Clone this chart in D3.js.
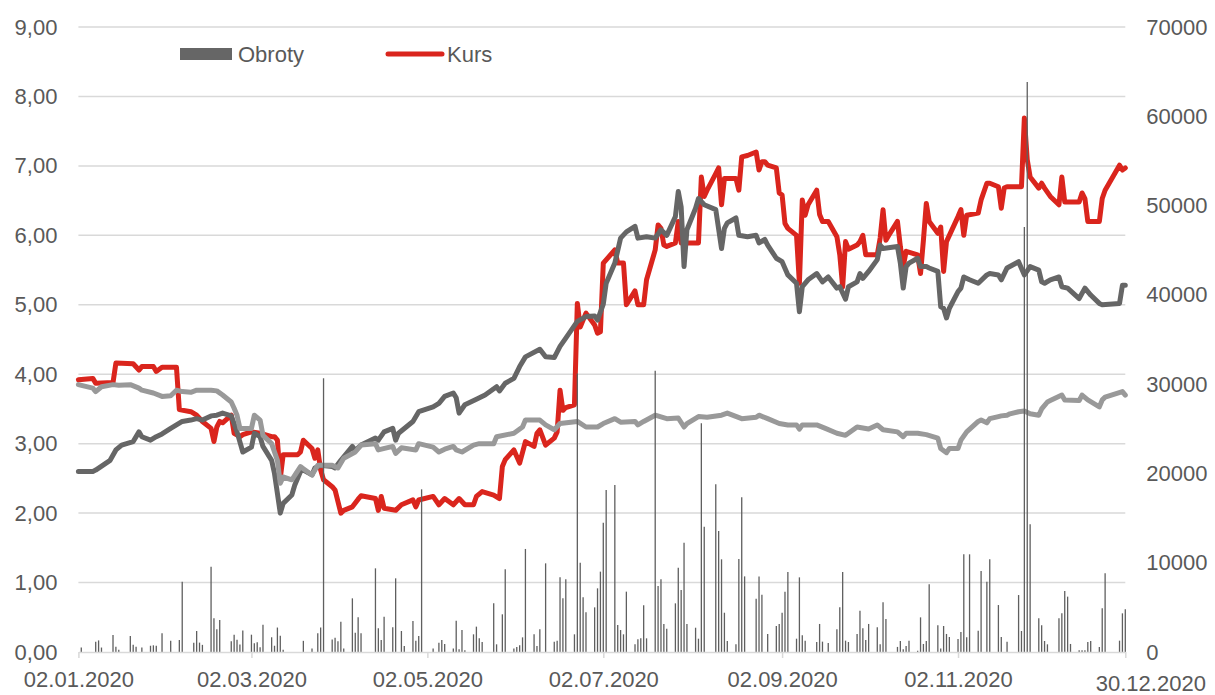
<!DOCTYPE html>
<html>
<head>
<meta charset="utf-8">
<script src="https://cdnjs.cloudflare.com/ajax/libs/d3/7.8.5/d3.min.js"></script>
<style>
	body { margin: 0; background: #fff; }
	svg { display: block; font-family: "Liberation Sans", Arial, sans-serif; }
</style>
</head>
<body>
<svg width="1215" height="695"></svg>
<script>
// tick labels
var leftTicks = [0, 1, 2, 3, 4, 5, 6, 7, 8, 9];
var rightTicks = [0, 10000, 20000, 30000, 40000, 50000, 60000, 70000];
var dateTicks = ["01-02", "03-02", "05-02", "07-02", "09-02", "11-02", "12-30"];

// Kurs (left axis)
var kurs = [
	["01-02",3.92],["01-07",3.94],["01-08",3.87],["01-14",3.88],["01-15",4.16],["01-21",4.15],["01-23",4.06],["01-24",4.11],
	["01-28",4.11],["01-29",4.04],["01-31",4.10],["02-05",4.10],["02-06",3.49],["02-10",3.46],["02-12",3.41],["02-14",3.32],
	["02-17",3.22],["02-18",3.03],["02-19",3.24],["02-20",3.32],["02-21",3.30],["02-24",3.41],["02-25",3.15],["02-27",3.10],
	["02-28",3.13],["03-02",3.17],["03-05",3.15],["03-09",3.10],["03-10",3.10],["03-11",3.05],["03-12",2.50],["03-13",2.84],
	["03-18",2.84],["03-19",2.88],["03-20",3.05],["03-23",2.93],["03-24",2.79],["03-25",2.91],["03-26",2.62],["03-27",2.48],
	["03-30",2.38],["03-31",2.33],["04-02",2.00],["04-03",2.04],["04-06",2.09],["04-08",2.20],["04-09",2.25],["04-14",2.21],
	["04-15",2.04],["04-16",2.24],["04-17",2.07],["04-21",2.04],["04-23",2.12],["04-27",2.19],["04-28",2.09],["04-29",2.19],
	["04-30",2.20],["05-04",2.24],["05-06",2.12],["05-08",2.21],["05-11",2.12],["05-13",2.21],["05-15",2.12],["05-18",2.12],
	["05-19",2.24],["05-21",2.31],["05-25",2.26],["05-27",2.21],["05-28",2.67],["05-29",2.77],["06-01",2.91],["06-03",2.72],
	["06-05",3.03],["06-08",2.96],["06-09",3.15],["06-10",3.20],["06-12",2.98],["06-15",3.08],["06-16",3.17],["06-17",3.77],
	["06-18",3.48],["06-19",3.52],["06-22",3.56],["06-23",5.02],["06-24",4.68],["06-26",4.88],["06-29",4.71],["06-30",4.59],
	["07-01",4.61],["07-02",5.60],["07-06",5.79],["07-07",5.60],["07-09",5.60],["07-10",5.00],["07-13",5.20],["07-14",5.00],
	["07-16",5.00],["07-17",5.36],["07-20",5.79],["07-21",6.15],["07-22",6.10],["07-23",5.86],["07-24",5.84],["07-27",5.89],
	["07-28",6.20],["07-29",5.89],["07-31",5.89],["08-04",5.89],["08-05",6.84],["08-06",6.56],["08-07",6.65],["08-10",6.89],
	["08-11",6.97],["08-12",6.44],["08-13",6.82],["08-17",6.82],["08-18",6.65],["08-19",7.13],["08-21",7.15],["08-24",7.20],
	["08-25",6.94],["08-26",7.06],["08-27",7.06],["08-28",7.01],["08-31",6.97],["09-01",6.61],["09-02",6.58],["09-03",6.17],
	["09-04",6.10],["09-07",6.00],["09-08",5.31],["09-09",6.51],["09-10",6.29],["09-11",6.44],["09-14",6.65],["09-15",6.30],
	["09-16",6.20],["09-18",6.20],["09-21",5.98],["09-22",5.72],["09-23",5.26],["09-24",5.91],["09-25",5.80],["09-28",5.86],
	["09-29",5.91],["09-30",6.00],["10-01",5.72],["10-05",5.72],["10-06",5.96],["10-07",6.37],["10-08",5.93],["10-09",6.00],
	["10-12",6.20],["10-13",5.84],["10-14",5.55],["10-15",5.77],["10-19",5.72],["10-20",5.45],["10-21",5.93],["10-22",6.46],
	["10-23",6.20],["10-26",6.03],["10-27",6.12],["10-28",5.48],["10-29",5.91],["10-30",6.00],["11-02",6.27],["11-03",6.37],
	["11-04",6.00],["11-05",6.29],["11-09",6.32],["11-10",6.51],["11-12",6.75],["11-13",6.75],["11-16",6.70],["11-17",6.39],
	["11-18",6.68],["11-19",6.70],["11-23",6.70],["11-24",6.70],["11-25",7.69],["11-26",7.09],["11-27",6.84],["11-30",6.68],
	["12-01",6.75],["12-02",6.68],["12-04",6.56],["12-07",6.44],["12-08",6.84],["12-09",6.48],["12-14",6.48],["12-15",6.61],
	["12-16",6.53],["12-17",6.20],["12-21",6.20],["12-22",6.53],["12-23",6.65],["12-28",7.01],["12-29",6.94],["12-30",6.97]
];

// dark grey index line (left axis scale)
var indexDark = [
	["01-02",2.60],["01-07",2.60],["01-08",2.62],["01-13",2.76],["01-15",2.91],["01-17",2.98],["01-21",3.03],["01-23",3.17],
	["01-24",3.10],["01-27",3.05],["01-29",3.10],["01-31",3.14],["02-03",3.22],["02-05",3.27],["02-07",3.32],["02-10",3.34],
	["02-12",3.36],["02-14",3.34],["02-17",3.40],["02-19",3.41],["02-21",3.44],["02-24",3.40],["02-25",3.29],["02-26",3.17],
	["02-28",2.88],["03-02",2.95],["03-03",3.15],["03-05",3.10],["03-06",2.96],["03-09",2.76],["03-10",2.57],["03-12",2.00],
	["03-13",2.14],["03-16",2.26],["03-17",2.40],["03-19",2.60],["03-20",2.62],["03-23",2.55],["03-24",2.65],["03-26",2.69],
	["03-30",2.67],["03-31",2.65],["04-02",2.76],["04-06",2.96],["04-07",2.90],["04-09",2.98],["04-14",3.08],["04-15",3.05],
	["04-17",3.17],["04-20",3.22],["04-21",3.05],["04-22",3.15],["04-27",3.32],["04-29",3.46],["05-04",3.53],["05-06",3.58],
	["05-08",3.68],["05-11",3.73],["05-12",3.66],["05-13",3.44],["05-15",3.56],["05-19",3.64],["05-22",3.70],["05-26",3.82],
	["05-27",3.76],["05-29",3.87],["06-01",3.94],["06-03",4.11],["06-05",4.25],["06-10",4.36],["06-12",4.25],["06-15",4.24],
	["06-17",4.40],["06-19",4.52],["06-23",4.76],["06-26",4.83],["06-29",4.84],["06-30",4.78],["07-02",5.01],["07-03",5.31],
	["07-06",5.60],["07-08",5.96],["07-10",6.05],["07-13",6.13],["07-14",5.96],["07-17",5.98],["07-20",5.96],["07-22",6.08],
	["07-24",6.00],["07-27",6.27],["07-28",6.63],["07-29",6.41],["07-30",5.55],["07-31",6.08],["08-03",6.39],["08-04",6.53],
	["08-06",6.44],["08-10",6.37],["08-12",5.81],["08-13",6.10],["08-14",6.18],["08-17",6.25],["08-18",6.00],["08-21",5.98],
	["08-24",6.00],["08-25",5.89],["08-27",5.94],["08-28",5.86],["08-31",5.67],["09-02",5.62],["09-04",5.43],["09-07",5.31],
	["09-08",4.90],["09-09",5.26],["09-11",5.36],["09-14",5.45],["09-16",5.33],["09-18",5.40],["09-21",5.24],["09-22",5.26],
	["09-24",5.08],["09-25",5.26],["09-28",5.33],["09-29",5.45],["09-30",5.38],["10-02",5.48],["10-05",5.65],["10-06",5.86],
	["10-07",5.81],["10-12",5.84],["10-13",5.60],["10-14",5.24],["10-15",5.55],["10-16",5.60],["10-19",5.67],["10-20",5.55],
	["10-22",5.55],["10-23",5.53],["10-26",5.48],["10-27",4.97],["10-28",4.95],["10-29",4.81],["10-30",4.95],["11-02",5.19],
	["11-03",5.24],["11-04",5.40],["11-06",5.36],["11-09",5.31],["11-12",5.43],["11-13",5.45],["11-16",5.43],["11-17",5.36],
	["11-19",5.53],["11-23",5.62],["11-25",5.43],["11-27",5.55],["11-30",5.50],["12-01",5.33],["12-02",5.31],["12-04",5.36],
	["12-07",5.40],["12-08",5.26],["12-10",5.24],["12-14",5.09],["12-16",5.24],["12-18",5.14],["12-21",5.02],["12-22",5.00],
	["12-28",5.02],["12-29",5.28],["12-30",5.28]
];

// light grey index line (left axis scale)
var indexLight = [
	["01-02",3.85],["01-07",3.80],["01-08",3.75],["01-10",3.82],["01-14",3.85],["01-16",3.84],["01-20",3.85],["01-23",3.80],
	["01-24",3.77],["01-28",3.73],["01-31",3.68],["02-03",3.69],["02-05",3.77],["02-07",3.75],["02-10",3.74],["02-12",3.77],
	["02-17",3.77],["02-19",3.76],["02-21",3.70],["02-24",3.60],["02-25",3.51],["02-26",3.41],["02-27",3.22],["03-02",3.22],
	["03-03",3.41],["03-05",3.34],["03-06",3.12],["03-09",3.00],["03-11",2.76],["03-12",2.43],["03-13",2.52],["03-16",2.48],
	["03-19",2.67],["03-20",2.64],["03-23",2.55],["03-25",2.69],["03-30",2.69],["04-01",2.65],["04-03",2.79],["04-07",2.88],
	["04-09",2.98],["04-14",3.00],["04-15",2.91],["04-20",2.96],["04-21",2.86],["04-23",2.94],["04-28",2.91],["04-29",3.00],
	["05-04",2.95],["05-06",2.88],["05-08",2.92],["05-11",2.96],["05-12",2.91],["05-14",2.88],["05-18",2.98],["05-20",3.00],
	["05-25",3.00],["05-26",3.10],["06-01",3.15],["06-04",3.24],["06-05",3.34],["06-10",3.34],["06-12",3.27],["06-15",3.20],
	["06-17",3.29],["06-23",3.32],["06-26",3.24],["06-30",3.24],["07-02",3.29],["07-06",3.36],["07-08",3.31],["07-13",3.32],
	["07-14",3.27],["07-16",3.32],["07-20",3.41],["07-24",3.36],["07-28",3.37],["07-30",3.24],["07-31",3.29],["08-04",3.39],
	["08-07",3.38],["08-12",3.41],["08-14",3.44],["08-19",3.36],["08-24",3.38],["08-25",3.41],["08-28",3.36],["09-01",3.29],
	["09-04",3.27],["09-07",3.27],["09-08",3.21],["09-09",3.27],["09-14",3.27],["09-17",3.22],["09-21",3.15],["09-24",3.12],
	["09-28",3.24],["10-02",3.21],["10-05",3.27],["10-07",3.20],["10-12",3.17],["10-14",3.10],["10-15",3.15],["10-19",3.15],
	["10-22",3.13],["10-26",3.08],["10-27",2.93],["10-29",2.87],["10-30",2.93],["11-02",2.93],["11-03",3.05],["11-05",3.17],
	["11-09",3.32],["11-10",3.34],["11-12",3.30],["11-13",3.36],["11-16",3.39],["11-17",3.40],["11-19",3.41],["11-20",3.43],
	["11-23",3.46],["11-25",3.47],["11-27",3.43],["11-30",3.41],["12-01",3.50],["12-03",3.60],["12-04",3.62],["12-08",3.70],
	["12-09",3.63],["12-14",3.62],["12-15",3.70],["12-17",3.63],["12-21",3.53],["12-22",3.63],["12-23",3.67],["12-29",3.75],
	["12-30",3.70]
];

// Obroty (right axis), days with a visible bar
var obroty = [
	["01-03",500],["01-08",1150],["01-09",1300],["01-10",500],["01-14",1900],["01-15",600],["01-16",250],["01-20",1800],
	["01-21",800],["01-22",600],["01-24",500],["01-27",700],["01-28",750],["01-29",700],["01-31",2100],["02-03",1250],
	["02-06",1350],["02-07",7870],["02-11",1050],["02-12",2350],["02-13",1050],["02-14",800],["02-17",9560],["02-18",3770],
	["02-19",2540],["02-20",3580],["02-24",1200],["02-25",1940],["02-26",1380],["02-27",830],["02-28",2420],["03-02",1940],
	["03-03",970],["03-04",1080],["03-05",520],["03-06",3060],["03-09",1650],["03-10",700],["03-11",2740],["03-12",1810],
	["03-13",250],["03-20",1250],["03-23",400],["03-25",2090],["03-26",2740],["03-27",30650],["03-30",1400],["03-31",1600],
	["04-01",1200],["04-02",3400],["04-03",400],["04-06",6010],["04-07",2170],["04-08",3880],["04-09",2090],["04-14",9370],
	["04-15",2650],["04-16",1340],["04-17",3960],["04-20",2760],["04-21",8250],["04-23",2350],["04-24",670],["04-27",3470],
	["04-28",1270],["04-29",1790],["04-30",18220],["05-04",400],["05-06",1050],["05-07",1340],["05-08",900],["05-11",400],
	["05-12",3510],["05-13",300],["05-14",2460],["05-15",200],["05-18",1980],["05-19",2840],["05-20",1530],["05-21",1120],
	["05-25",5450],["05-26",860],["05-28",4220],["05-29",9260],["06-01",400],["06-02",570],["06-03",750],["06-04",1640],
	["06-05",11540],["06-08",1980],["06-09",670],["06-10",2540],["06-12",9930],["06-15",1160],["06-16",1270],["06-17",8360],
	["06-18",6010],["06-19",8140],["06-22",1980],["06-23",31200],["06-24",10000],["06-25",6120],["06-26",4440],["06-29",5000],
	["06-30",7130],["07-01",9000],["07-02",14490],["07-03",18140],["07-06",18700],["07-07",3020],["07-08",2460],["07-09",1980],
	["07-10",6760],["07-13",860],["07-14",1420],["07-15",1530],["07-16",5230],["07-17",1530],["07-20",31500],["07-21",7390],
	["07-22",8140],["07-23",3140],["07-24",2610],["07-27",5450],["07-28",9440],["07-29",6940],["07-30",12250],["07-31",3140],
	["08-03",2720],["08-04",1490],["08-05",25610],["08-06",14040],["08-10",18780],["08-11",13550],["08-12",10380],["08-13",4400],
	["08-14",1230],["08-17",860],["08-18",10420],["08-19",17320],["08-20",8470],["08-24",5970],["08-25",8470],["08-26",6420],
	["08-28",2020],["08-31",2910],["09-01",3140],["09-02",4400],["09-03",6760],["09-04",8960],["09-07",1490],["09-08",8360],
	["09-09",1870],["09-10",1270],["09-14",1120],["09-15",3140],["09-16",1160],["09-18",1010],["09-21",2540],["09-22",5000],
	["09-23",8960],["09-24",1270],["09-25",1120],["09-28",2020],["09-29",4630],["09-30",2650],["10-01",1340],["10-02",3140],
	["10-05",2760],["10-06",860],["10-07",5560],["10-08",3700],["10-12",570],["10-13",1230],["10-14",300],["10-15",670],
	["10-16",1270],["10-19",150],["10-20",3880],["10-21",900],["10-22",1230],["10-23",7580],["10-26",2990],["10-27",400],
	["10-28",2910],["10-29",2020],["10-30",1680],["11-02",1460],["11-03",2240],["11-04",10940],["11-05",1640],["11-06",10940],
	["11-09",2390],["11-10",9070],["11-12",7870],["11-13",10380],["11-16",5260],["11-17",1680],["11-19",1160],["11-23",6380],
	["11-24",2350],["11-25",47600],["11-26",63840],["11-27",14300],["11-30",3770],["12-01",2990],["12-02",1230],["12-03",860],
	["12-07",3770],["12-08",4330],["12-09",6830],["12-10",6200],["12-11",900],["12-14",200],["12-15",200],["12-16",200],
	["12-17",1120],["12-18",1230],["12-21",560],["12-22",4890],["12-23",8810],["12-28",1270],["12-29",4330],["12-30",4780]
];

var parseDay = d3.timeParse("%Y-%m-%d");
function toDate(s) {
	return parseDay("2020-" + s);
}

var svg = d3.select("svg");
var plotLeft = 78.4, plotRight = 1125.3, plotTop = 27, plotBottom = 652;
var textColor = "#595959";

var x = d3.scaleTime()
	.domain([toDate("01-02"), toDate("12-30")])
	.range([plotLeft, plotRight]);
var yLeft = d3.scaleLinear().domain([0, 9]).range([plotBottom, plotTop]);
var yRight = d3.scaleLinear().domain([0, 70000]).range([plotBottom, plotTop]);

function drawGrid() {
	svg.append("g")
		.selectAll("line")
		.data(leftTicks.slice(1))
		.enter()
		.append("line")
		.attr("x1", plotLeft)
		.attr("x2", plotRight)
		.attr("y1", function(d) { return yLeft(d); })
		.attr("y2", function(d) { return yLeft(d); })
		.attr("stroke", "#d9d9d9")
		.attr("stroke-width", 1.5);
}

function styleAxis(g) {
	g.select(".domain").remove();
	g.selectAll("text")
		.attr("fill", textColor)
		.style("font-size", "22px")
		.style("font-family", "'Liberation Sans', Arial, sans-serif");
}

function drawAxes() {
	var commaFormat = function(d) { return d3.format(".2f")(d).replace(".", ","); };

	svg.append("g")
		.attr("transform", "translate(" + plotLeft + ",0)")
		.call(d3.axisLeft(yLeft).tickValues(leftTicks).tickFormat(commaFormat).tickSize(0).tickPadding(21))
		.call(styleAxis);

	svg.append("g")
		.attr("transform", "translate(" + plotRight + ",0)")
		.call(d3.axisRight(yRight).tickValues(rightTicks).tickFormat(d3.format("d")).tickSize(0).tickPadding(21))
		.call(styleAxis);

	var xAxis = svg.append("g")
		.attr("transform", "translate(0," + plotBottom + ")")
		.call(d3.axisBottom(x)
			.tickValues(dateTicks.map(toDate))
			.tickFormat(d3.timeFormat("%d.%m.%Y"))
			.tickSize(6)
			.tickSizeOuter(0));

	xAxis.select(".domain").attr("stroke", "#d9d9d9").attr("stroke-width", 1.5);
	xAxis.selectAll(".tick line").attr("stroke", "#d9d9d9").attr("stroke-width", 1.5);
	xAxis.selectAll("text")
		.attr("fill", textColor)
		.attr("dy", null)
		.attr("y", 35)
		.style("font-size", "22px")
		.style("font-family", "'Liberation Sans', Arial, sans-serif");

	// the last label sits a little lower and to the right
	xAxis.selectAll(".tick")
		.filter(function(d, i) { return i === dateTicks.length - 1; })
		.select("text")
		.attr("x", 25)
		.attr("y", 39);
}

function drawLine(data, color) {
	var line = d3.line()
		.x(function(d) { return x(toDate(d[0])); })
		.y(function(d) { return yLeft(d[1]); });

	svg.append("path")
		.datum(data)
		.attr("d", line)
		.attr("fill", "none")
		.attr("stroke", color)
		.attr("stroke-width", 5)
		.attr("stroke-linejoin", "round")
		.attr("stroke-linecap", "round");
}

function drawBars() {
	svg.append("g")
		.selectAll("line")
		.data(obroty)
		.enter()
		.append("line")
		.attr("x1", function(d) { return x(toDate(d[0])); })
		.attr("x2", function(d) { return x(toDate(d[0])); })
		.attr("y1", yRight(0))
		.attr("y2", function(d) { return yRight(d[1]); })
		.attr("stroke", "#5f5f5f")
		.attr("stroke-width", 1.3);
}

function drawLegend() {
	var legend = svg.append("g");

	legend.append("rect")
		.attr("x", 180).attr("y", 48)
		.attr("width", 52).attr("height", 12)
		.attr("fill", "#666666");

	legend.append("text")
		.attr("x", 238).attr("y", 62)
		.attr("fill", textColor)
		.style("font-size", "22px")
		.text("Obroty");

	legend.append("line")
		.attr("x1", 388).attr("x2", 442)
		.attr("y1", 54).attr("y2", 54)
		.attr("stroke", "#da251d")
		.attr("stroke-width", 5)
		.attr("stroke-linecap", "round");

	legend.append("text")
		.attr("x", 447).attr("y", 62)
		.attr("fill", textColor)
		.style("font-size", "22px")
		.text("Kurs");
}

drawGrid();
drawLine(kurs, "#da251d");
drawLine(indexDark, "#666666");
drawLine(indexLight, "#999999");
drawBars();
drawAxes();
drawLegend();
</script>
</body>
</html>
